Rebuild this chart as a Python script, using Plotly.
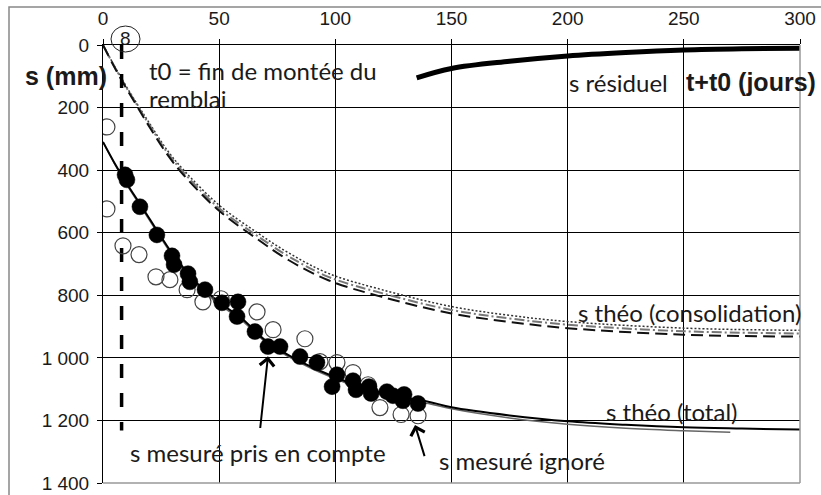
import plotly.graph_objects as go

# ---------------- data ----------------
x_ticks = [0, 50, 100, 150, 200, 250, 300]
x_ticklabels = ["0", "50", "100", "150", "200", "250", "300"]
y_ticks = [0, 200, 400, 600, 800, 1000, 1200, 1400]
y_ticklabels = ["0", "200", "400", "600", "800", "1 000", "1 200", "1 400"]

# s mesuré pris en compte (filled circles)
meas_t = [9.5, 10.3, 15.9, 23.2, 29.7, 30.6, 36.6, 37.4, 43.9, 51.2, 58.1, 57.7,
          65.4, 71.0, 76.2, 84.8, 92.1, 100.7, 98.6, 107.6, 108.9, 114.5, 115.4,
          122.2, 124.8, 129.6, 129.1, 135.6]
meas_s = [415, 431, 517, 607, 674, 702, 731, 757, 782, 824, 821, 868,
          916, 964, 964, 996, 1015, 1054, 1092, 1073, 1102, 1092, 1114,
          1108, 1121, 1117, 1137, 1146]

# s mesuré ignoré (open circles)
ign_t = [1.7, 1.7, 8.6, 15.5, 22.8, 28.8, 36.2, 43.0, 50.8, 66.3, 73.2, 86.9,
         93.4, 100.7, 107.6, 114.1, 119.2, 128.3, 135.6]
ign_s = [262, 524, 642, 670, 741, 750, 782, 821, 811, 853, 910, 939,
         1012, 1015, 1047, 1086, 1159, 1181, 1185]

# s théo (total)
tot_t = [0, 5, 10, 17, 25, 30, 40, 50, 60, 70, 80, 90, 100, 110, 120, 130, 140,
         150, 175, 200, 225, 250, 275, 300]
tot_s = [310, 378, 440, 520, 613, 668, 758, 822, 876, 945, 992, 1030, 1062, 1090,
         1112, 1128, 1140, 1158, 1184, 1203, 1214, 1222, 1226, 1229]
tot2_t = [0, 5, 10, 17, 25, 30, 40, 50, 60, 70, 80, 90, 100, 110, 120, 130, 140,
          150, 175, 200, 225, 250, 270]
tot2_s = [310, 380, 444, 525, 618, 674, 764, 828, 882, 950, 997, 1035, 1067, 1095,
          1117, 1133, 1146, 1163, 1192, 1212, 1225, 1233, 1238]

# s théo (consolidation) - three variants
cons_t = [0, 5, 10, 15, 20, 27.5, 35, 50, 66, 80, 97, 120, 150, 175, 200, 250, 300]
cons_dash = [0, 72, 138, 200, 262, 348, 418, 530, 618, 688, 752, 805, 858, 885, 905, 926, 932]
cons_dashdot = [0, 70, 135, 196, 256, 342, 410, 522, 608, 676, 741, 793, 847, 874, 894, 915, 922]
cons_dot = [0, 68, 132, 192, 250, 335, 402, 512, 598, 665, 730, 782, 836, 864, 884, 905, 912]

# s résiduel
res_t = [135, 150, 175, 200, 225, 250, 275, 300]
res_s = [105, 75, 52, 35, 24, 16, 12, 10]

# t0 marker line
t0_t = [8, 8]
t0_s = [0, 1232]

# ---------------- figure ----------------
W, H = 821, 495
ML, MR, MT, MB = 103, 21, 45, 12
PW, PH = W - ML - MR, H - MT - MB


def px_x(p):
    return (p - ML) / PW


def px_y(p):
    return (H - MB - p) / PH


TXT = "Lato"
AR = "Liberation Sans, Arial, sans-serif"
INK = "#1a1a1a"

fig = go.Figure()

fig.add_trace(go.Scatter(x=cons_t, y=cons_dot, mode="lines", line_shape="spline",
                         line=dict(color="#333", width=1.5, dash="2px,2px")))
fig.add_trace(go.Scatter(x=cons_t, y=cons_dashdot, mode="lines", line_shape="spline",
                         line=dict(color="#777", width=2, dash="10px,3px,2px,3px")))
fig.add_trace(go.Scatter(x=cons_t, y=cons_dash, mode="lines", line_shape="spline",
                         line=dict(color="#111", width=2, dash="12px,6px")))

fig.add_trace(go.Scatter(x=tot2_t, y=tot2_s, mode="lines", line_shape="spline",
                         line=dict(color="#666", width=1.5)))
fig.add_trace(go.Scatter(x=tot_t, y=tot_s, mode="lines", line_shape="spline",
                         line=dict(color="#000", width=2)))

fig.add_trace(go.Scatter(x=res_t, y=res_s, mode="lines", line_shape="spline",
                         line=dict(color="#000", width=5)))

fig.add_trace(go.Scatter(x=t0_t, y=t0_s, mode="lines",
                         line=dict(color="#000", width=3.5, dash="14px,15px")))

fig.add_trace(go.Scatter(x=ign_t, y=ign_s, mode="markers",
                         marker=dict(symbol="circle", size=16, color="rgba(0,0,0,0)",
                                     line=dict(color="#444", width=1.2))))
fig.add_trace(go.Scatter(x=meas_t, y=meas_s, mode="markers",
                         marker=dict(symbol="circle", size=16, color="#000",
                                     line=dict(color="#000", width=0.5))))

fig.update_layout(
    width=W, height=H, showlegend=False,
    margin=dict(l=ML, r=MR, t=MT, b=MB, autoexpand=False),
    paper_bgcolor="white", plot_bgcolor="white",
    xaxis=dict(range=[0, 300], side="top", tickmode="array", tickvals=x_ticks,
               ticktext=x_ticklabels, showgrid=True, gridcolor="#000", gridwidth=1,
               showline=True, linecolor="#000", linewidth=1, zeroline=False,
               automargin=False,
               ticks="outside", ticklen=5, tickcolor="#000", ticklabelstandoff=6,
               tickfont=dict(family=AR, size=19, color=INK)),
    yaxis=dict(range=[1400, 0], tickmode="array", tickvals=y_ticks,
               ticktext=y_ticklabels, showgrid=True, gridcolor="#000", gridwidth=1,
               showline=True, linecolor="#000", linewidth=1, zeroline=False,
               automargin=False,
               ticks="outside", ticklen=5, tickcolor="#000", ticklabelstandoff=4,
               tickfont=dict(family=AR, size=19, color=INK)),
)

shapes = [
    dict(type="line", xref="paper", yref="paper", x0=1, x1=1, y0=0, y1=1,
         line=dict(color="#999", width=1.5), layer="above"),
    dict(type="line", xref="paper", yref="paper", x0=0, x1=1, y0=0, y1=0,
         line=dict(color="#999", width=1.5), layer="above"),
    dict(type="rect", xref="paper", yref="paper", x0=px_x(9), x1=px_x(840),
         y0=px_y(510), y1=px_y(7), line=dict(color="#888", width=1.5),
         fillcolor="rgba(0,0,0,0)", layer="above"),
    # circle around the "8" label above the t0 line
    dict(type="circle", xref="paper", yref="paper", x0=px_x(111), x1=px_x(140),
         y0=px_y(52), y1=px_y(26), line=dict(color="#222", width=1),
         fillcolor="rgba(0,0,0,0)", layer="above"),
]
fig.update_layout(shapes=shapes)

ann = []


def txt(x, y, s, size=24, fam=TXT, bold=False, xref="x", yref="y", xanchor="left"):
    ann.append(dict(x=x, y=y, xref=xref, yref=yref, text=("<b>%s</b>" % s) if bold else s,
                    showarrow=False, xanchor=xanchor, yanchor="middle",
                    font=dict(family=fam, size=size, color=INK)))


txt(px_x(125.5), px_y(38), "8", size=19, fam=AR, xref="paper", yref="paper", xanchor="center")
txt(px_x(66), px_y(76), "s (mm)", size=25, fam=AR, bold=True, xref="paper", yref="paper",
    xanchor="center")
txt(19.0, 83, "t0 = fin de montée du")
txt(19.0, 172, "remblai")
txt(199.5, 121, "s résiduel")
txt(250.0, 118, "t+t0 (jours)", size=25, fam=AR, bold=True)
txt(203.5, 856, "s théo (consolidation)")
txt(215.5, 1172, "s théo (total)")
txt(10.8, 1303, "s mesuré pris en compte")
txt(143.8, 1328, "s mesuré ignoré")

# arrows
ann.append(dict(x=71.0, y=995, ax=67.6, ay=1229, xref="x", yref="y", axref="x", ayref="y",
                text="", showarrow=True, arrowhead=4, arrowsize=1.4, arrowwidth=2,
                arrowcolor="#000"))
ann.append(dict(x=134.3, y=1215, ax=138.6, ay=1319, xref="x", yref="y", axref="x", ayref="y",
                text="", showarrow=True, arrowhead=4, arrowsize=1.4, arrowwidth=2,
                arrowcolor="#000"))

fig.update_layout(annotations=ann)

fig.write_html("out.html", config={"displayModeBar": False},
               post_script="document.body.style.margin='0';")
